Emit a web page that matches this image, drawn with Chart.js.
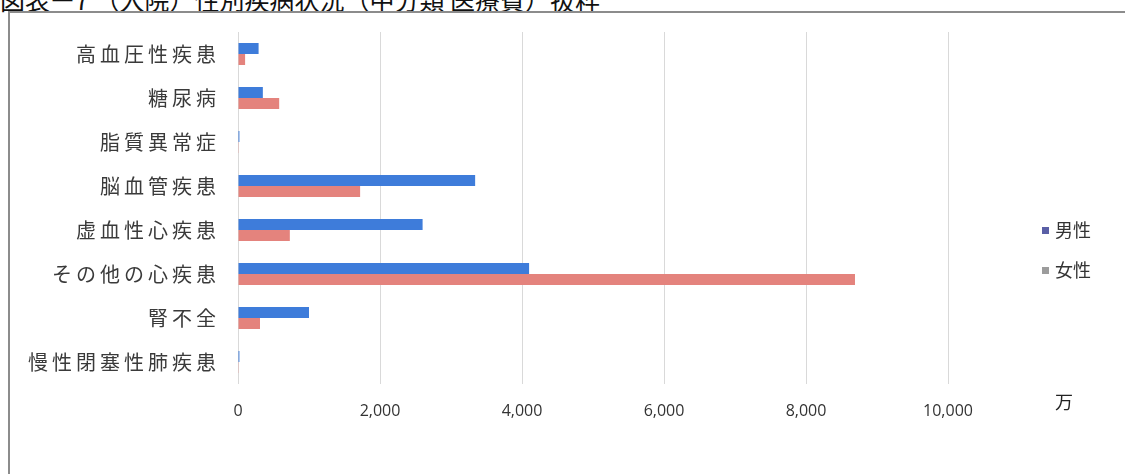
<!DOCTYPE html>
<html lang="ja">
<head>
<meta charset="utf-8">
<script src="https://cdn.jsdelivr.net/npm/chart.js@4.4.1/dist/chart.umd.min.js"></script>
<style>
  html, body { margin: 0; padding: 0; background: #fff; }
  body { width: 1125px; height: 474px; position: relative; overflow: hidden;
         font-family: "Noto Sans CJK JP", "Noto Sans", sans-serif; }
  #title { position: absolute; left: 0; top: -13px; font-size: 25px; line-height: 25px;
           color: #111; white-space: nowrap; }
  #frame { position: absolute; left: 8px; top: 11px; width: 1200px; height: 500px;
           border-left: 2px solid #8c8c8c; border-top: 2px solid #8c8c8c; background: #fff; }
  #wrap { position: absolute; left: 10px; top: 2px; width: 1115px; height: 472px; }
  #unit { position: absolute; left: 1055px; top: 388px; font-size: 18px; color: #222; }
  .leg { position: absolute; left: 1042px; font-size: 18px; color: #333; line-height: 20px; }
  .leg i { display: inline-block; width: 7px; height: 7px; margin-right: 6px; vertical-align: 3px; }
</style>
</head>
<body>
<div id="title">図表ー7 （入院）性別疾病状況（中分類 医療費）抜粋</div>
<div id="frame"></div>
<div id="wrap"><canvas id="c"></canvas></div>
<div id="unit">万</div>
<div class="leg" style="top:219px"><i style="background:#5a5fa6"></i>男性</div>
<div class="leg" style="top:259px"><i style="background:#9c9c9c"></i>女性</div>
<script>
const categories = ['高血圧性疾患', '糖尿病', '脂質異常症', '脳血管疾患', '虚血性心疾患', 'その他の心疾患', '腎不全', '慢性閉塞性肺疾患'];
const male   = [290, 350, 20, 3340, 2600, 4100, 1000, 20];
const female = [100, 580, 10, 1720, 730, 8690, 310, 10];
const seriesNames = ['男性', '女性'];
const xTicks = [0, 2000, 4000, 6000, 8000, 10000];

// Category labels are set with a little extra spacing between glyphs.
const spacedCategoryLabels = {
  id: 'spacedCategoryLabels',
  afterLayout(chart) {
    const scale = chart.scales.y;
    if (scale._spacedWrapped) return;
    const orig = scale.drawLabels;
    scale.drawLabels = function (area) {
      const ctx = this.ctx;
      ctx.save();
      ctx.letterSpacing = '4px';
      orig.call(this, area);
      ctx.restore();
    };
    scale._spacedWrapped = true;
  }
};

new Chart(document.getElementById('c'), {
  type: 'bar',
  data: {
    labels: categories,
    datasets: [
      { label: seriesNames[0], data: male, backgroundColor: '#3e7cda',
        categoryPercentage: 0.5, barPercentage: 1.0 },
      { label: seriesNames[1], data: female, backgroundColor: '#e4837d',
        categoryPercentage: 0.5, barPercentage: 1.0 }
    ]
  },
  plugins: [spacedCategoryLabels],
  options: {
    indexAxis: 'y',
    responsive: true,
    maintainAspectRatio: false,
    animation: false,
    layout: { padding: { top: 4, right: 177, bottom: 0, left: 0 } },
    plugins: { legend: { display: false }, tooltip: { enabled: false } },
    scales: {
      x: {
        min: 0, max: 10000,
        afterBuildTicks: (axis) => { axis.ticks = xTicks.map(v => ({ value: v })); },
        afterFit: (axis) => { axis.height = 90; },
        grid: { color: '#d9d9d9', lineWidth: 1, drawTicks: false },
        border: { display: false },
        ticks: {
          padding: 18,
          color: '#333',
          font: { family: '"Liberation Sans Narrow", "Open Sans", sans-serif', size: 16 },
          callback: (v) => v.toLocaleString('en-US')
        }
      },
      y: {
        afterFit: (axis) => { axis.width = 228; },
        grid: { display: false, drawTicks: false },
        border: { display: false },
        ticks: {
          padding: 18,
          color: '#3a3a3a',
          font: { family: '"Noto Sans CJK JP", sans-serif', size: 20 }
        }
      }
    }
  }
});
</script>
</body>
</html>
